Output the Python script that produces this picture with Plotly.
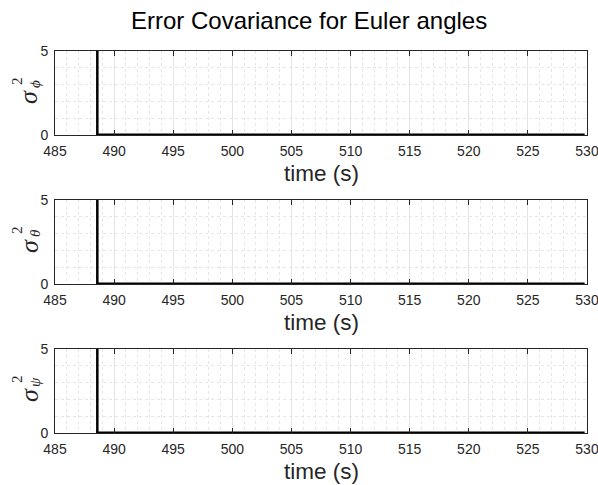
import plotly.graph_objects as go
from plotly.subplots import make_subplots

# Data
time_s = [488.55, 488.58, 529.8]
var_phi = [1000.0, 0.02, 0.02]
var_theta = [1000.0, 0.02, 0.02]
var_psi = [1000.0, 0.02, 0.02]
series = [var_phi, var_theta, var_psi]
sub_symbols = ["ϕ", "θ", "ψ"]
xticks = [485, 490, 495, 500, 505, 510, 515, 520, 525, 530]
yticks = [0, 5]

W, H = 598, 485
fig = make_subplots(rows=3, cols=1)

x0, x1 = 55, 587
rows_px = [(51, 135), (200, 284), (349, 433)]
axcol = "#262626"
sans = "Liberation Sans"
serif = "Liberation Serif"

def px(xp, yp):
    return xp / W, 1 - yp / H

for i, vals in enumerate(series):
    r = i + 1
    fig.add_trace(go.Scatter(x=time_s, y=vals, mode="lines",
                             line=dict(color="black", width=2.5),
                             showlegend=False), row=r, col=1)
    top, bot = rows_px[i]
    fig.update_xaxes(domain=[x0 / W, x1 / W], range=[485, 530], automargin=False,
                     tickvals=xticks, ticks="inside", ticklen=5,
                     tickcolor=axcol, showline=True, linecolor=axcol,
                     linewidth=1, mirror="ticks", showgrid=True,
                     gridcolor="#e3e3e3", gridwidth=1, zeroline=False,
                     ticklabeloverflow="allow", ticklabelstandoff=3,
                     tickfont=dict(size=14, color=axcol, family=sans),
                     minor=dict(dtick=1, showgrid=True, gridcolor="#e6e6e6",
                                griddash="dot", ticks=""),
                     row=r, col=1)
    fig.update_yaxes(domain=[1 - bot / H, 1 - top / H], range=[0, 5], automargin=False,
                     tickvals=yticks, ticks="inside", ticklen=5,
                     tickcolor=axcol, showline=True, linecolor=axcol,
                     linewidth=1, mirror="ticks", showgrid=True,
                     gridcolor="#e3e3e3", zeroline=False,
                     ticklabeloverflow="allow", ticklabelstandoff=3,
                     tickfont=dict(size=14, color=axcol, family=sans),
                     minor=dict(dtick=1, showgrid=True, gridcolor="#e6e6e6",
                                griddash="dot", ticks=""),
                     row=r, col=1)
    # x-axis title
    ax, ay = px((x0 + x1) / 2, bot + 38)
    fig.add_annotation(text="time (s)", x=ax, y=ay, xref="paper", yref="paper",
                       xanchor="center", yanchor="middle", showarrow=False,
                       font=dict(size=22.5, color=axcol, family=sans))
    # y-axis label: sigma^2_sub, rotated
    off = top - 51
    sx, sy = px(29, 97 + off)
    fig.add_annotation(text="<i>σ</i>", x=sx, y=sy, xref="paper", yref="paper",
                       xanchor="center", yanchor="middle", showarrow=False, textangle=-90,
                       font=dict(size=26, color=axcol, family=serif))
    tx, ty = px(17, 81 + off)
    fig.add_annotation(text="2", x=tx, y=ty, xref="paper", yref="paper",
                       xanchor="center", yanchor="middle", showarrow=False, textangle=-90,
                       font=dict(size=15, color=axcol, family=serif))
    bx, by = px(35, 84 + off)
    fig.add_annotation(text="<i>" + sub_symbols[i] + "</i>", x=bx, y=by,
                       xref="paper", yref="paper",
                       xanchor="center", yanchor="middle", showarrow=False, textangle=-90,
                       font=dict(size=15, color=axcol, family=serif))

tx, ty = px(309, 21)
fig.add_annotation(text="Error Covariance for Euler angles", x=tx, y=ty,
                   xref="paper", yref="paper", xanchor="center", yanchor="middle",
                   showarrow=False, font=dict(size=24, color="black", family=sans))

fig.update_layout(
    width=W, height=H,
    margin=dict(l=0, r=0, t=0, b=0),
    paper_bgcolor="white", plot_bgcolor="white",
)

fig.write_html("out.html")
